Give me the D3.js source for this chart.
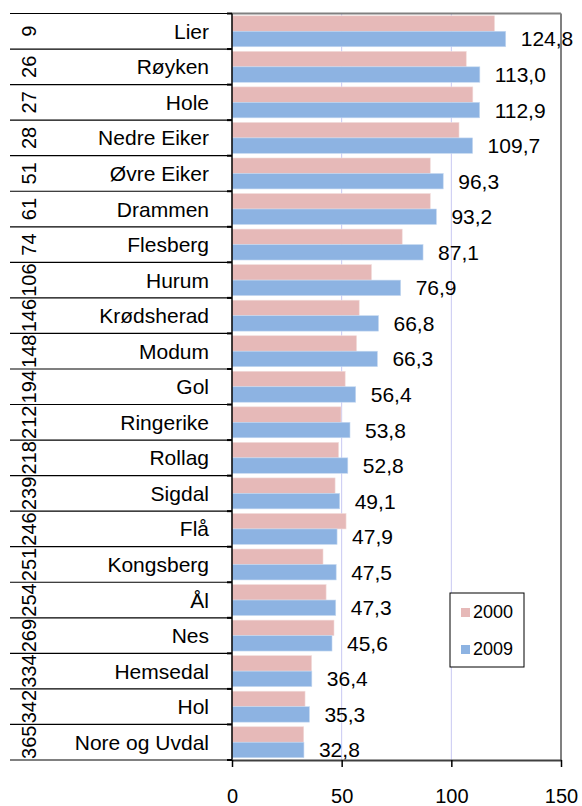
<!DOCTYPE html>
<html>
<head>
<meta charset="utf-8">
<script src="https://cdn.jsdelivr.net/npm/d3@7"></script>
<style>
  body { margin: 0; background: #fff; }
  text { font-family: Arial, "Liberation Sans", sans-serif; fill: #000; }
</style>
</head>
<body>
<div id="chart"></div>
<script>
var names = ["Lier", "Røyken", "Hole", "Nedre Eiker", "Øvre Eiker", "Drammen", "Flesberg", "Hurum",
  "Krødsherad", "Modum", "Gol", "Ringerike", "Rollag", "Sigdal", "Flå", "Kongsberg", "Ål", "Nes",
  "Hemsedal", "Hol", "Nore og Uvdal"];
var ranks = [9, 26, 27, 28, 51, 61, 74, 106, 146, 148, 194, 212, 218, 239, 246, 251, 254, 269, 334, 342, 365];
var v2000 = [119.7, 106.8, 109.8, 103.5, 90.4, 90.4, 77.6, 63.6, 58.0, 56.8, 51.6, 49.7, 48.6, 47.0,
  52.0, 41.5, 42.9, 46.5, 36.3, 33.3, 32.7];
var v2009 = [124.8, 113.0, 112.9, 109.7, 96.3, 93.2, 87.1, 76.9, 66.8, 66.3, 56.4, 53.8, 52.8, 49.1,
  47.9, 47.5, 47.3, 45.6, 36.4, 35.3, 32.8];
var series = ["2000", "2009"];
var colors = { "2000": "#e6b9b8", "2009": "#8db3e2" };
var xTicks = [0, 50, 100, 150];

var w = 582, h = 806;
var pLeft = 232, pRight = 561, pTop = 13.5, pBottom = 760;

var svg = d3.select('#chart').append('svg')
  .attr('width', w)
  .attr('height', h);

var x = d3.scaleLinear().domain([0, 150]).range([pLeft, pRight]);
var y = d3.scaleBand().domain(names).range([pTop, pBottom]).paddingInner(0.13).paddingOuter(0.065);
var yRow = d3.scaleBand().domain(names).range([pTop, pBottom]);
var ySub = d3.scaleBand().domain(series).range([0, y.bandwidth()]);

var fmt = function(v) { return d3.format('.1f')(v).replace('.', ','); };

// gridlines
svg.selectAll('.grid')
  .data(xTicks.slice(1, 3))
  .enter().append('line')
  .attr('x1', function(d) { return x(d); })
  .attr('x2', function(d) { return x(d); })
  .attr('y1', pTop)
  .attr('y2', pBottom)
  .attr('stroke', '#c8c8f2')
  .attr('stroke-width', 1);

// bars
var rows = svg.selectAll('.row')
  .data(names)
  .enter().append('g')
  .attr('transform', function(d) { return 'translate(0,' + y(d) + ')'; });

rows.append('rect')
  .attr('x', x(0))
  .attr('y', ySub('2000'))
  .attr('width', function(d, i) { return x(v2000[i]) - x(0); })
  .attr('height', ySub.bandwidth())
  .attr('fill', colors['2000'])
  .attr('stroke', '#f2dcdb')
  .attr('stroke-width', 0.6);

rows.append('rect')
  .attr('x', x(0))
  .attr('y', ySub('2009'))
  .attr('width', function(d, i) { return x(v2009[i]) - x(0); })
  .attr('height', ySub.bandwidth())
  .attr('fill', colors['2009'])
  .attr('stroke', '#c6d9f1')
  .attr('stroke-width', 0.6);

// value labels
rows.append('text')
  .attr('x', function(d, i) { return x(v2009[i]) + 15; })
  .attr('y', ySub('2009') + ySub.bandwidth() / 2 + 7.5)
  .attr('font-size', 21)
  .text(function(d, i) { return fmt(v2009[i]); });

// left table: row lines, names and ranks
var bounds = names.map(function(d) { return yRow(d); }).concat([pBottom]);
svg.selectAll('.rowline')
  .data(bounds)
  .enter().append('line')
  .attr('x1', 10)
  .attr('x2', pLeft)
  .attr('y1', function(d) { return d; })
  .attr('y2', function(d) { return d; })
  .attr('stroke', function(d, i) { return i == bounds.length - 1 ? '#808080' : '#000'; })
  .attr('stroke-width', function(d, i) { return i == bounds.length - 1 ? 2 : 1.2; });

svg.selectAll('.name')
  .data(names)
  .enter().append('text')
  .attr('x', 209)
  .attr('y', function(d) { return yRow(d) + yRow.bandwidth() / 2 + 7.5; })
  .attr('text-anchor', 'end')
  .attr('font-size', 21)
  .text(function(d) { return d; });

svg.selectAll('.rank')
  .data(names)
  .enter().append('text')
  .attr('transform', function(d) { return 'translate(36,' + (yRow(d) + yRow.bandwidth() / 2) + ') rotate(-90)'; })
  .attr('text-anchor', 'middle')
  .attr('font-size', 20)
  .text(function(d, i) { return ranks[i]; });

// plot frame
svg.append('line')
  .attr('x1', pLeft).attr('x2', pRight)
  .attr('y1', pTop).attr('y2', pTop)
  .attr('stroke', '#808080').attr('stroke-width', 2);
svg.append('line')
  .attr('x1', pRight).attr('x2', pRight)
  .attr('y1', pTop).attr('y2', pBottom)
  .attr('stroke', '#808080').attr('stroke-width', 2);

// left axis line with ticks
svg.append('line')
  .attr('x1', pLeft).attr('x2', pLeft)
  .attr('y1', pTop).attr('y2', pBottom)
  .attr('stroke', '#000').attr('stroke-width', 1.5);
svg.selectAll('.ytick')
  .data(bounds)
  .enter().append('line')
  .attr('x1', pLeft - 5).attr('x2', pLeft)
  .attr('y1', function(d) { return d; })
  .attr('y2', function(d) { return d; })
  .attr('stroke', '#000').attr('stroke-width', 2);

// bottom axis
var xAxis = svg.append('g')
  .attr('transform', 'translate(0,' + pBottom + ')')
  .call(d3.axisBottom(x).tickValues(xTicks).tickSize(7).tickPadding(22).tickSizeOuter(0));
xAxis.select('.domain').attr('stroke', '#404040').attr('stroke-width', 2);
xAxis.selectAll('.tick line').attr('stroke', '#000').attr('stroke-width', 1.5);
xAxis.selectAll('.tick text')
  .attr('font-size', 20)
  .attr('font-family', 'Arial, "Liberation Sans", sans-serif')
  .attr('fill', '#000');

// legend
var legend = svg.append('g').attr('transform', 'translate(450,593)');
legend.append('rect')
  .attr('width', 74).attr('height', 74)
  .attr('fill', '#fff')
  .attr('stroke', '#000').attr('stroke-width', 1);
var items = legend.selectAll('.item')
  .data(series)
  .enter().append('g')
  .attr('transform', function(d, i) { return 'translate(11,' + (15 + i * 37) + ')'; });
items.append('rect')
  .attr('width', 9).attr('height', 9)
  .attr('fill', function(d) { return colors[d]; });
items.append('text')
  .attr('x', 12)
  .attr('y', 10)
  .attr('font-size', 18)
  .text(function(d) { return d; });
</script>
</body>
</html>
